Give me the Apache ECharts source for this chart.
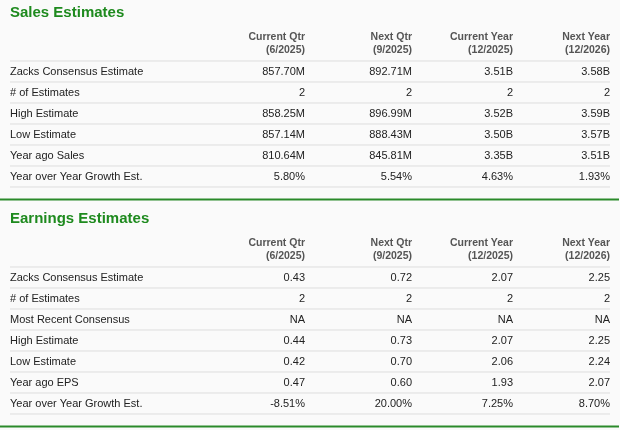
<!DOCTYPE html><html><head><meta charset="utf-8"><script src="https://cdn.jsdelivr.net/npm/echarts@6/dist/echarts.min.js"></script>
<style>html,body{margin:0;background:#fafafa}#c{width:620px;height:430px}</style></head><body><div id="c"></div><script>
const headers1=["Current Qtr","Next Qtr","Current Year","Next Year"];
const headers2=["(6/2025)","(9/2025)","(12/2025)","(12/2026)"];
const salesTitle="Sales Estimates";
const salesRows=["Zacks Consensus Estimate","# of Estimates","High Estimate","Low Estimate","Year ago Sales","Year over Year Growth Est."];
const salesVals=[["857.70M","892.71M","3.51B","3.58B"],["2","2","2","2"],["858.25M","896.99M","3.52B","3.59B"],["857.14M","888.43M","3.50B","3.57B"],["810.64M","845.81M","3.35B","3.51B"],["5.80%","5.54%","4.63%","1.93%"]];
const earnTitle="Earnings Estimates";
const earnRows=["Zacks Consensus Estimate","# of Estimates","Most Recent Consensus","High Estimate","Low Estimate","Year ago EPS","Year over Year Growth Est."];
const earnVals=[["0.43","0.72","2.07","2.25"],["2","2","2","2"],["NA","NA","NA","NA"],["0.44","0.73","2.07","2.25"],["0.42","0.70","2.06","2.24"],["0.47","0.60","1.93","2.07"],["-8.51%","20.00%","7.25%","8.70%"]];
const colX=[305,412,513,610];
const F='"Liberation Sans",Arial,sans-serif';
const g=[];
function block(top,title,rows,vals){
  g.push({type:'text',left:10,top:top,style:{text:title,font:'bold 15px '+F,fill:'#1e8a1e'}});
  colX.forEach((x,i)=>{
    g.push({type:'text',x:x,y:top+32,style:{text:headers1[i],font:'bold 10.5px '+F,fill:'#555',align:'right',verticalAlign:'middle'}});
    g.push({type:'text',x:x,y:top+45,style:{text:headers2[i],font:'bold 10.5px '+F,fill:'#555',align:'right',verticalAlign:'middle'}});
  });
  const r0=top+56,h=21;
  rows.forEach((r,j)=>{
    const y=r0+j*h;
    g.push({type:'line',shape:{x1:10,y1:y,x2:610,y2:y},style:{stroke:'#ddd',lineWidth:1}});
    g.push({type:'text',x:10,y:y+10.5,style:{text:r,font:'11px '+F,fill:'#222',verticalAlign:'middle'}});
    vals[j].forEach((v,i)=>g.push({type:'text',x:colX[i],y:y+10.5,style:{text:v,font:'11px '+F,fill:'#222',align:'right',verticalAlign:'middle'}}));
  });
  const yb=r0+rows.length*h;
  g.push({type:'line',shape:{x1:10,y1:yb,x2:610,y2:yb},style:{stroke:'#ddd',lineWidth:1}});
  g.push({type:'line',shape:{x1:0,y1:yb+12.5,x2:619,y2:yb+12.5},style:{stroke:'#2a8a2a',lineWidth:2}});
}
block(5,salesTitle,salesRows,salesVals);
block(211,earnTitle,earnRows,earnVals);
const ch=echarts.init(document.getElementById('c'));
ch.setOption({backgroundColor:'#fafafa',graphic:g});
</script></body></html>
